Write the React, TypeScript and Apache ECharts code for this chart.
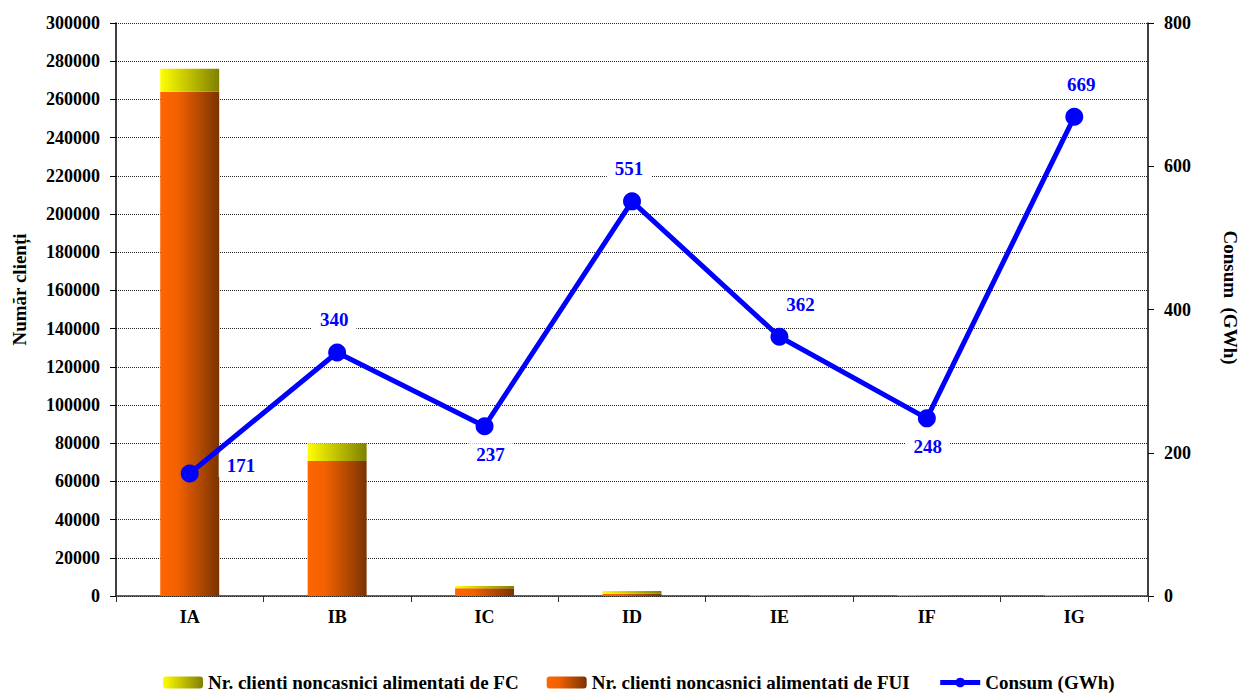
import React, { useEffect, useRef } from "react";
import * as echarts from "echarts";

const categories = ["IA", "IB", "IC", "ID", "IE", "IF", "IG"];
const fuiValues = [264000, 70700, 4000, 1200, 300, 250, 250];
const fcValues = [12000, 9300, 1200, 1400, 250, 250, 250];
const consumValues = [171, 340, 237, 551, 362, 248, 669];
const leftTicks = { min: 0, max: 300000, interval: 20000 };
const rightTicks = { min: 0, max: 800, interval: 200 };

const FONT = "'Liberation Serif', 'Times New Roman', serif";

export default function App() {
  const ref = useRef<HTMLDivElement>(null);
  useEffect(() => {
    if (!ref.current) return;
    const chart = echarts.init(ref.current, undefined, { renderer: "svg" });
    const fcGrad = new echarts.graphic.LinearGradient(0, 0, 1, 0, [
      { offset: 0, color: "#FFFF00" },
      { offset: 1, color: "#808000" },
    ]);
    const fuiGrad = new echarts.graphic.LinearGradient(0, 0, 1, 0, [
      { offset: 0, color: "#FF6600" },
      { offset: 0.3, color: "#F26100" },
      { offset: 1, color: "#7A3300" },
    ]);
    const labelCfg: any[] = [
      { position: "right", distance: 20, offset: [0, -8] },
      { position: "top", distance: 12, offset: [-3, 0] },
      { position: "bottom", distance: 8, offset: [6, 0] },
      { position: "top", distance: 12, offset: [-3, 0] },
      { position: "top", distance: 12, offset: [21, 0] },
      { position: "bottom", distance: 8, offset: [1, 0] },
      { position: "top", distance: 12, offset: [7, 0] },
    ];
    const textBase = { fontFamily: FONT, fontWeight: "bold" as const, color: "#000" };
    chart.setOption({
      animation: false,
      grid: { left: 116, right: 94, top: 23, bottom: 97, containLabel: false, outerBoundsMode: "none" },
      legend: {
        bottom: 1,
        left: 163,
        padding: 0,
        itemWidth: 40,
        itemHeight: 12,
        itemGap: 28,
        textStyle: { ...textBase, fontSize: 19 },
        data: [
          { name: "Nr. clienti noncasnici alimentati de FC", itemStyle: { color: fcGrad } },
          { name: "Nr. clienti noncasnici alimentati de FUI", itemStyle: { color: fuiGrad } },
          { name: "Consum (GWh)", lineStyle: { width: 5, color: "#0000FF" } },
        ],
      },
      xAxis: {
        type: "category",
        data: categories,
        axisLine: { lineStyle: { color: "#333", width: 1.5 } },
        axisTick: { show: true, alignWithLabel: false, length: 6, lineStyle: { color: "#333" } },
        axisLabel: { ...textBase, fontSize: 18, margin: 12 },
      },
      yAxis: [
        {
          type: "value",
          ...leftTicks,
          name: "Număr clienți",
          nameLocation: "middle",
          nameGap: 87,
          nameRotate: 90,
          nameTextStyle: { ...textBase, fontSize: 19, padding: [0, 0, 0, 40] },
          axisLine: { show: true, lineStyle: { color: "#000", width: 1.5 } },
          axisTick: { show: true, length: 6, lineStyle: { color: "#000" } },
          axisLabel: { ...textBase, fontSize: 18, margin: 16, formatter: (v: number) => String(v) },
          splitLine: { show: true, lineStyle: { color: "#222", type: "dotted", width: 1 } },
        },
        {
          type: "value",
          ...rightTicks,
          position: "right",
          name: "Consum  (GWh)",
          nameLocation: "middle",
          nameGap: 73,
          nameRotate: -90,
          nameTextStyle: { ...textBase, fontSize: 19, padding: [0, 24, 0, 0] },
          axisLine: { show: true, lineStyle: { color: "#000", width: 1.5 } },
          axisTick: { show: true, length: 6, lineStyle: { color: "#000" } },
          axisLabel: { ...textBase, fontSize: 18, margin: 16, formatter: (v: number) => String(v) },
          splitLine: { show: false },
        },
      ],
      series: [
        {
          name: "Nr. clienti noncasnici alimentati de FUI",
          type: "bar",
          stack: "c",
          barWidth: "40%",
          itemStyle: { color: fuiGrad },
          data: fuiValues,
        },
        {
          name: "Nr. clienti noncasnici alimentati de FC",
          type: "bar",
          stack: "c",
          barWidth: "40%",
          itemStyle: { color: fcGrad },
          data: fcValues,
        },
        {
          name: "Consum (GWh)",
          type: "line",
          yAxisIndex: 1,
          symbol: "circle",
          symbolSize: 18,
          lineStyle: { color: "#0000FF", width: 5 },
          itemStyle: { color: "#0000FF" },
          z: 5,
          data: consumValues.map((v, i) => ({
            value: v,
            label: {
              show: true,
              ...labelCfg[i],
              fontFamily: FONT,
              fontWeight: "bold",
              fontSize: 19,
              color: "#0000FF",
              backgroundColor: "#fff",
              padding: [2, 8],
            },
          })),
        },
      ],
    });
    return () => chart.dispose();
  }, []);
  return <div ref={ref} style={{ width: 1242, height: 693, position: "absolute", left: 0, top: 0 }} />;
}
